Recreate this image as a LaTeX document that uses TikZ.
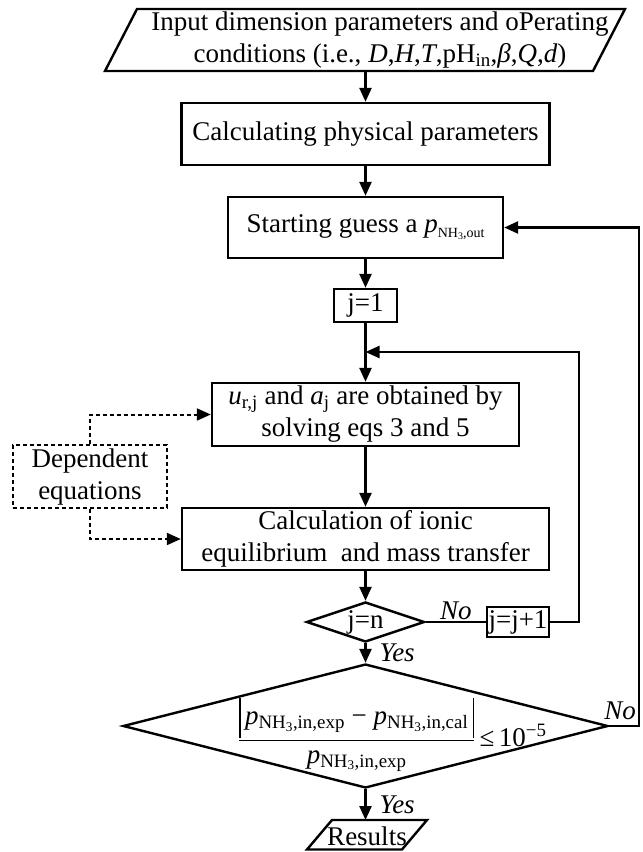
\documentclass[tikz,border=0pt]{standalone}
\usepackage{fontspec}
\setmainfont{Liberation Serif}
\usetikzlibrary{arrows.meta,shapes.geometric}
\newcommand\pNH[1]{\textit{p}\textsubscript{NH\textsubscript{3},#1}}
\newcommand\pNHsmall[1]{\textit{p}\raisebox{-5pt}{\fontsize{14}{14}\selectfont NH\raisebox{-2pt}{\fontsize{10}{10}\selectfont 3},#1}}
\begin{document}
\begin{tikzpicture}[x=1pt,y=-1pt,
  every node/.style={font=\fontsize{27}{32}\selectfont, text=black},
  box/.style={draw, line width=2.4pt, rectangle, align=center, inner sep=0pt},
  dbox/.style={draw, line width=2pt, dash pattern=on 4pt off 3pt, rectangle, align=center, inner sep=0pt},
  arr/.style={line width=2.4pt, -{Triangle[length=14pt,width=12pt]}},
  darr/.style={line width=2pt, dash pattern=on 4pt off 3pt, -{Triangle[length=14pt,width=12pt]}},
  dia/.style={draw, diamond, line width=2.4pt, inner sep=0pt, aspect=3},
  para/.style={draw, line width=2.4pt, line join=miter},
  lab/.style={font=\fontsize{27}{32}\selectfont\itshape, inner sep=1pt}]
\useasboundingbox (0,0) rectangle (643,852);

% input parallelogram
\draw[para] (137,9) -- (625,9) -- (593,71) -- (105,71) -- cycle;
\node[align=center, inner sep=0pt] (intext) at (380,40)
  {Input dimension parameters and oPerating\\conditions (i.e., \textit{D},\textit{H},\textit{T},pH\textsubscript{in},\textit{β},\textit{Q},\textit{d})};
\coordinate (inbot) at (365.5,71);

\node[box, minimum width=368pt, minimum height=62pt] (phys) at (365.5,134) {Calculating physical parameters};
\node[box, minimum width=275pt, minimum height=61pt] (guess) at (365.5,227.5) {Starting guess a \pNHsmall{out}};
\node[box, minimum width=63pt, minimum height=33pt] (j1) at (365.5,305.5) {j=1};
\node[box, minimum width=307pt, minimum height=63pt] (ubox) at (365.5,414.5)
  {\textit{u}\textsubscript{r,j} and \textit{a}\textsubscript{j} are obtained by\\solving eqs 3 and 5};
\node[box, minimum width=367pt, minimum height=62pt] (ionic) at (365.5,539)
  {Calculation of ionic\\equilibrium\ \ and mass transfer};
\node[dia, minimum width=118pt, minimum height=40pt] (jn) at (365.5,622) {j=n};
\node[box, minimum width=62pt, minimum height=30pt] (jinc) at (518,622) {j=j+1};
\node[dia, minimum width=485pt, minimum height=124pt] (bigd) at (365.5,726) {};
\node[inner sep=0pt, anchor=base west] (frac) at (238,746)
  {$\displaystyle\frac{\mbox{\vrule width 1.2pt height 26pt depth 14pt\,\pNH{in,exp} − \pNH{in,cal}\,\vrule width 1.2pt height 26pt depth 14pt}}{\mbox{\pNH{in,exp}}}$\,≤\,10\textsuperscript{−5}};
\node[dbox, minimum width=154pt, minimum height=63pt] (dep) at (90,476.5) {Dependent\\equations};

% results parallelogram
\draw[para] (332,820) -- (427,820) -- (402,849.5) -- (307,849.5) -- cycle;
\node[inner sep=0pt] (res) at (367,836) {Results};
\coordinate (restop) at (365.5,820);

\coordinate (c1) at (579,352);
\coordinate (loopin) at (365.5,352);
\coordinate (c2) at (639,227.5);

% connectors
\draw[arr] (inbot) -- (phys);
\draw[arr] (phys) -- (guess);
\draw[arr] (guess) -- (j1);
\draw[arr] (j1) -- (ubox);
\draw[arr] (ubox) -- (ionic);
\draw[arr] (ionic) -- (jn);
\draw[arr] (jn) -- node[lab, right, xshift=12pt] {Yes} (bigd);
\draw[line width=2.4pt] (jn) -- node[lab, above] {No} (jinc);
\draw[arr] (jinc.east) -| (c1) -- (loopin);
\draw[arr] (bigd.east) -| (c2) -- (guess.east);
\node[lab] (no2) at (620,711) {No};
\draw[arr] (bigd) -- node[lab, right, xshift=12pt] {Yes} (restop);
\draw[darr] (dep.north) |- (ubox.west);
\draw[darr] (dep.south) |- (ionic.west);
\end{tikzpicture}
\end{document}
